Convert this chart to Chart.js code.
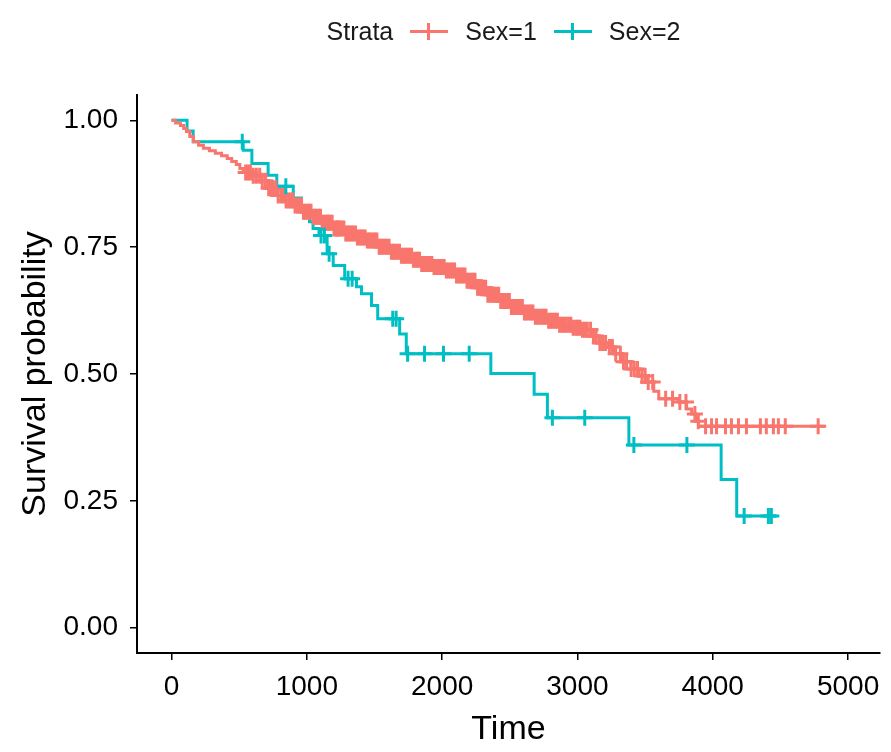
<!DOCTYPE html>
<html>
<head>
<meta charset="utf-8">
<script src="https://cdn.jsdelivr.net/npm/chart.js@4.4.0/dist/chart.umd.min.js"></script>
<style>
  html, body { margin: 0; padding: 0; background: #fff; }
  #wrap { position: relative; width: 891px; height: 752px; }
  #legend {
    position: absolute; top: 13px; left: 131px; width: 745px; height: 36px;
    display: flex; justify-content: center; align-items: center;
    font-family: "Liberation Sans", Arial, sans-serif; font-size: 25px; color: #1a1a1a;
  }
  .key { position: relative; display: inline-block; width: 38px; height: 16px; margin: 0 17px; }
  .key .h { position: absolute; left: 0; right: 0; top: 7px; height: 3px; }
  .key .v { position: absolute; left: 17px; top: 0px; width: 3px; height: 17px; }
</style>
</head>
<body>
<div id="wrap">
  <canvas id="myChart" width="891" height="752"></canvas>
  <div id="legend">
    <span>Strata</span>
    <span class="key"><span class="h" style="background:#F8766D"></span><span class="v" style="background:#F8766D"></span></span>
    <span>Sex=1</span>
    <span class="key"><span class="h" style="background:#00BFC4"></span><span class="v" style="background:#00BFC4"></span></span>
    <span>Sex=2</span>
  </div>
</div>
<script>
// Kaplan-Meier curves (time, survival after the drop)
const sex1Time = [0, 30, 66, 90, 110, 135, 162, 200, 236, 280, 324, 370, 412, 445, 479, 505, 530, 596, 655, 714, 781, 839, 898, 972, 1038, 1112, 1193, 1281, 1362, 1443, 1524, 1613, 1686, 1775, 1848, 1929, 2018, 2099, 2180, 2261, 2334, 2423, 2511, 2599, 2688, 2776, 2865, 2960, 3034, 3100, 3159, 3211, 3270, 3328, 3395, 3454, 3513, 3564, 3601, 3748, 3807, 3844, 3873, 3895, 4830];
const sex1Surv = [1.000, 0.995, 0.990, 0.984, 0.978, 0.968, 0.958, 0.951, 0.945, 0.940, 0.935, 0.930, 0.925, 0.919, 0.913, 0.905, 0.897, 0.891, 0.881, 0.866, 0.852, 0.842, 0.832, 0.820, 0.810, 0.798, 0.787, 0.777, 0.769, 0.763, 0.751, 0.741, 0.733, 0.725, 0.717, 0.711, 0.704, 0.694, 0.684, 0.670, 0.656, 0.644, 0.632, 0.621, 0.613, 0.605, 0.597, 0.591, 0.587, 0.575, 0.561, 0.553, 0.540, 0.524, 0.510, 0.496, 0.484, 0.466, 0.451, 0.445, 0.431, 0.421, 0.407, 0.397, 0.397];
const sex1Censor = [548, 566, 583, 604, 627, 652, 671, 694, 718, 735, 751, 770, 788, 809, 828, 847, 866, 882, 897, 913, 929, 944, 961, 975, 988, 1003, 1018, 1031, 1047, 1060, 1072, 1088, 1101, 1113, 1126, 1140, 1152, 1163, 1174, 1187, 1201, 1215, 1226, 1233, 1246, 1258, 1274, 1288, 1301, 1316, 1330, 1343, 1360, 1374, 1388, 1402, 1416, 1431, 1447, 1460, 1473, 1490, 1503, 1518, 1535, 1549, 1563, 1579, 1594, 1608, 1625, 1640, 1654, 1670, 1685, 1699, 1715, 1730, 1744, 1760, 1774, 1788, 1805, 1820, 1833, 1849, 1863, 1878, 1895, 1910, 1924, 1940, 1953, 1968, 1987, 2001, 2015, 2031, 2046, 2061, 2077, 2092, 2106, 2122, 2138, 2153, 2169, 2184, 2198, 2215, 2229, 2243, 2262, 2276, 2291, 2307, 2322, 2338, 2355, 2370, 2385, 2402, 2418, 2433, 2449, 2464, 2479, 2497, 2512, 2527, 2545, 2560, 2575, 2593, 2608, 2623, 2641, 2656, 2671, 2689, 2704, 2719, 2737, 2752, 2768, 2787, 2803, 2818, 2836, 2852, 2868, 2887, 2902, 2918, 2936, 2951, 2968, 2987, 3003, 3018, 3037, 3055, 3073, 3097, 3118, 3138, 3166, 3186, 3208, 3236, 3258, 3283, 3317, 3340, 3363, 3397, 3420, 3444, 3477, 3500, 3523, 3556, 3652, 3703, 3757, 3802, 3868, 3893, 3947, 3991, 4028, 4094, 4138, 4190, 4249, 4352, 4396, 4448, 4485, 4536, 4779];

const sex2Time = [0, 115, 160, 530, 594, 714, 778, 900, 960, 1020, 1046, 1090, 1150, 1195, 1280, 1367, 1404, 1478, 1524, 1686, 1735, 2360, 2680, 2778, 3380, 4062, 4177, 4470];
const sex2Surv = [1.000, 0.979, 0.958, 0.941, 0.915, 0.892, 0.870, 0.847, 0.823, 0.800, 0.787, 0.773, 0.737, 0.714, 0.688, 0.672, 0.658, 0.635, 0.609, 0.579, 0.540, 0.501, 0.460, 0.414, 0.360, 0.292, 0.220, 0.220];
const sex2Censor = [523, 845, 1105, 1130, 1165, 1305, 1335, 1635, 1660, 1745, 1870, 2010, 2200, 2815, 3054, 3417, 3809, 4232, 4411, 4433];

const xTicks = [0, 1000, 2000, 3000, 4000, 5000];
const yTicks = [0, 0.25, 0.5, 0.75, 1];

const red = '#F8766D';
const teal = '#00BFC4';

function survAt(times, surv, t) {
    let s = surv[0];
    for (let i = 0; i < times.length; i++) {
        if (times[i] <= t) s = surv[i];
    }
    return s;
}
const toPts = (times, surv) => times.map((t, i) => ({ x: t, y: surv[i] }));
const censorPts = (cens, times, surv) => cens.map(t => ({ x: t, y: survAt(times, surv, t) }));

const font = 'Liberation Sans, Arial, sans-serif';

const ctx = document.getElementById('myChart').getContext('2d');
const myChart = new Chart(ctx, {
    type: 'line',
    data: {
        datasets: [
            { label: 'Sex=1', data: toPts(sex1Time, sex1Surv), borderColor: red, borderWidth: 3, stepped: true, pointRadius: 0, order: 3 },
            { label: 'Sex=2', data: toPts(sex2Time, sex2Surv), borderColor: teal, borderWidth: 3, stepped: true, pointRadius: 0, order: 3 },
            { label: 'c1', data: censorPts(sex1Censor, sex1Time, sex1Surv), showLine: false, pointStyle: 'cross', pointRadius: 8, pointBorderWidth: 3, borderColor: red, backgroundColor: red, order: 2 },
            { label: 'c2', data: censorPts(sex2Censor, sex2Time, sex2Surv), showLine: false, pointStyle: 'cross', pointRadius: 8, pointBorderWidth: 3, borderColor: teal, backgroundColor: teal, order: 1 }
        ]
    },
    options: {
        responsive: false,
        animation: false,
        events: [],
        layout: { padding: { top: 95, right: 9, left: 0, bottom: 0 } },
        plugins: { legend: { display: false }, tooltip: { enabled: false } },
        scales: {
            x: {
                type: 'linear',
                min: -255, max: 5236,
                afterBuildTicks: s => { s.ticks = xTicks.map(v => ({ value: v })); },
                afterFit: s => { s.height = 99; },
                grid: { display: true, drawOnChartArea: false, drawTicks: true, tickLength: 7, color: '#000', lineWidth: 1.5 },
                border: { display: true, color: '#000', width: 2 },
                ticks: { color: '#000', font: { family: font, size: 28 }, padding: 10, maxRotation: 0, callback: v => String(v) },
                title: { display: true, text: 'Time', color: '#000', font: { family: font, size: 34 }, padding: { top: 0, bottom: 2 } }
            },
            y: {
                type: 'linear',
                min: -0.05, max: 1.05,
                afterBuildTicks: s => { s.ticks = yTicks.map(v => ({ value: v })); },
                afterFit: s => { s.width = 137; },
                grid: { display: true, drawOnChartArea: false, drawTicks: true, tickLength: 7, color: '#000', lineWidth: 1.5 },
                border: { display: true, color: '#000', width: 2 },
                ticks: { color: '#000', font: { family: font, size: 28 }, padding: 12, callback: v => v.toFixed(2) },
                title: { display: true, text: 'Survival probability', color: '#000', font: { family: font, size: 34 }, padding: { top: 15, bottom: 0 } }
            }
        }
    }
});
</script>
</body>
</html>
